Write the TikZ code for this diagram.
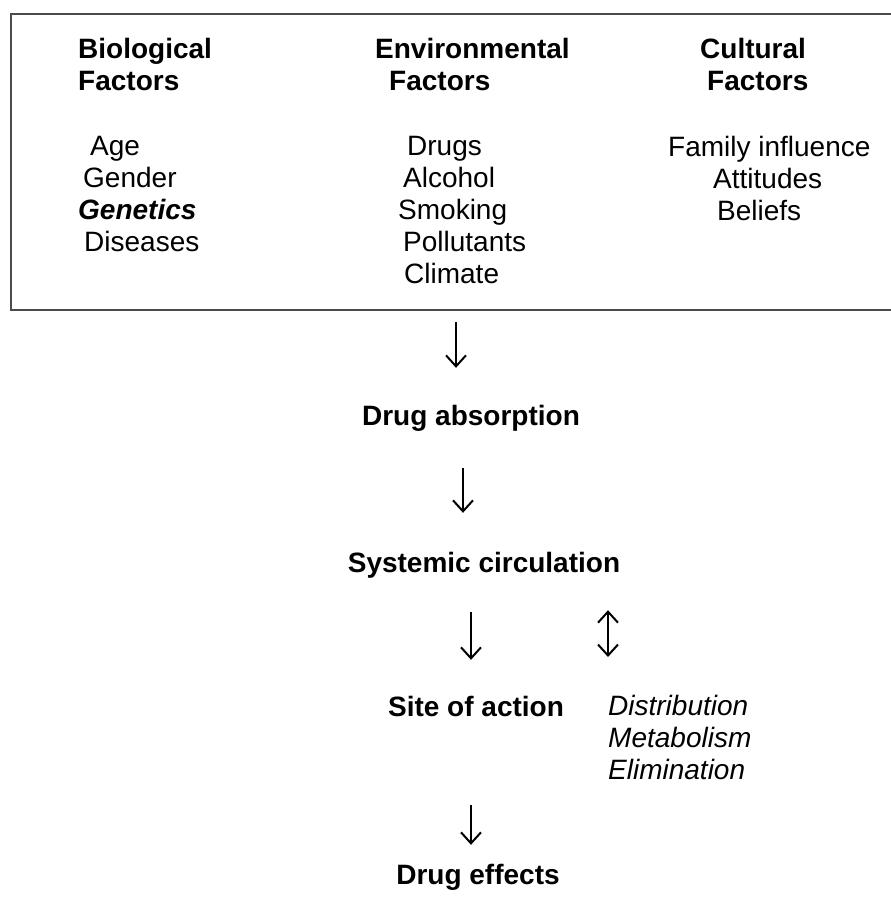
\documentclass[tikz,border=0pt]{standalone}
\usepackage{fontspec}
\setmainfont{Liberation Sans}
\usepackage{tikz}
\usetikzlibrary{positioning, arrows.meta}

\begin{document}
\begin{tikzpicture}[x=1pt, y=1pt,
  headtext/.style={inner sep=0pt, align=left, font=\fontsize{28}{32}\selectfont\bfseries},
  listtext/.style={inner sep=0pt, align=left, font=\fontsize{28}{32}\selectfont},
  flowtext/.style={inner sep=0pt, text height=21pt, text depth=6pt, font=\fontsize{28}{32}\selectfont\bfseries},
  flowarrow/.style={-{Straight Barb[length=11pt, width=20pt]}, line width=2pt},
  botharrow/.style={{Straight Barb[length=11pt, width=20pt]}-{Straight Barb[length=11pt, width=20pt]}, line width=2pt}]
\useasboundingbox (0,0) rectangle (891,-913);

% factor box, open at the right
\draw[line width=2pt, black!70] (900,-14) -- (11,-14) -- (11,-310) -- (900,-310);
\coordinate (framebot) at (456,-310);

\node (biohead) [headtext, anchor=north west] at (78,-38) {Biological\\Factors};
\node (envhead) [headtext, anchor=north west] at (375,-38) {Environmental\\\hspace{14pt}Factors};
\node (culthead) [headtext, anchor=north west] at (700,-38) {Cultural\\\hspace{7pt}Factors};

\node (biolist) [listtext, anchor=north west] at (78,-136) {\hspace{12pt}Age\\\hspace{5pt}Gender\\\textbf{\textit{Genetics}}\\\hspace{6pt}Diseases};
\node (envlist) [listtext, anchor=north west] at (398,-136) {\hspace{9pt}Drugs\\\hspace{5pt}Alcohol\\Smoking\\\hspace{5pt}Pollutants\\\hspace{6pt}Climate};
\node (cultlist) [listtext, anchor=north west] at (668,-136) {Family influence\\\hspace{45pt}Attitudes\\\hspace{49pt}Beliefs};

% flow
\node (absorb) [flowtext] at (471,-417.5) {Drug absorption};
\node (circ) [flowtext, on grid, below=147pt of absorb, xshift=13pt] {Systemic circulation};
\node (site) [flowtext, on grid, below=144pt of circ, xshift=-8pt] {Site of action};
\node (effects) [flowtext, on grid, below=168pt of site, xshift=2pt] {Drug effects};
\node (dist) [listtext, anchor=north west, font=\fontsize{28}{32}\selectfont\itshape] at (608,-695) {Distribution\\Metabolism\\Elimination};

\draw[flowarrow, shorten <=12pt, shorten >=36pt] (framebot) -- (framebot |- absorb.north);
\draw[flowarrow, shorten <=37pt, shorten >=38pt] ([xshift=-8pt]absorb.south) -- ([xshift=-21pt]circ.north);
\draw[flowarrow, shorten <=34pt, shorten >=35pt] ([xshift=-13pt]circ.south) -- ([xshift=-5pt]site.north);
\draw[botharrow, shorten <=32pt, shorten >=38pt] ([xshift=124pt]circ.south) -- (dist.north west);
\draw[flowarrow, shorten <=83pt, shorten >=18pt] ([xshift=-5pt]site.south) -- ([xshift=-7pt]effects.north);
\end{tikzpicture}
\end{document}
